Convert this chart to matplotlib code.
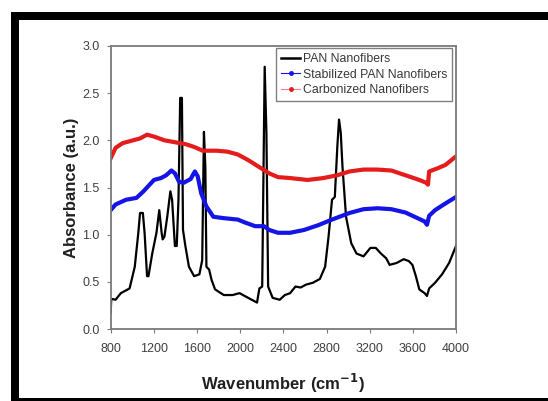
import matplotlib
matplotlib.use('Agg')
import matplotlib.pyplot as plt
from matplotlib.patches import Rectangle
from matplotlib.lines import Line2D

plt.rcParams['font.family'] = ['Liberation Sans', 'DejaVu Sans']

# FTIR spectra, values
pan_x = [800, 805, 845, 894, 975, 1023, 1056, 1072, 1098, 1114, 1137, 1150, 1185, 1224, 1250,
         1272, 1282, 1298, 1324, 1353, 1369, 1386, 1395, 1412, 1428, 1444, 1460, 1470, 1492,
         1525, 1573, 1622, 1648, 1664, 1677, 1687, 1712, 1735, 1767, 1848, 1929, 1994, 2042,
         2107, 2156, 2178, 2204, 2227, 2243, 2259, 2301, 2366, 2414, 2463, 2512, 2560, 2609,
         2673, 2738, 2787, 2819, 2851, 2877, 2900, 2916, 2932, 2948, 2981, 3029, 3078, 3143,
         3207, 3256, 3304, 3353, 3385, 3450, 3515, 3563, 3596, 3628, 3660, 3709, 3731, 3751,
         3806, 3871, 3936, 4000]
pan_y = [0.17, 0.32, 0.31, 0.38, 0.43, 0.66, 1.02, 1.23, 1.23, 1.02, 0.56, 0.56, 0.80, 1.02, 1.26,
         1.02, 0.95, 0.98, 1.19, 1.46, 1.37, 1.05, 0.88, 0.88, 1.37, 2.45, 2.45, 1.05, 0.88,
         0.66, 0.56, 0.58, 0.73, 2.09, 1.72, 0.66, 0.63, 0.52, 0.42, 0.36, 0.36, 0.38, 0.35,
         0.31, 0.28, 0.43, 0.45, 2.78, 2.08, 0.45, 0.33, 0.31, 0.36, 0.38, 0.45, 0.44, 0.47,
         0.49, 0.53, 0.66, 0.98, 1.37, 1.40, 1.93, 2.22, 2.08, 1.72, 1.19, 0.91, 0.80, 0.77,
         0.86, 0.86, 0.80, 0.75, 0.68, 0.70, 0.74, 0.72, 0.68, 0.56, 0.42, 0.38, 0.35, 0.43,
         0.49, 0.58, 0.70, 0.88]

stab_x = [800, 845, 942, 1039, 1104, 1201, 1266, 1314, 1363, 1395, 1434, 1476, 1541, 1580, 1606,
          1638, 1687, 1751, 1848, 1978, 2042, 2139, 2220, 2269, 2350, 2463, 2592, 2722, 2851,
          3013, 3143, 3272, 3401, 3531, 3644, 3709, 3731, 3751, 3806, 3887, 4000]
stab_y = [1.26, 1.32, 1.37, 1.39, 1.46, 1.58, 1.60, 1.63, 1.68, 1.65, 1.56, 1.55, 1.59, 1.67, 1.62,
          1.44, 1.30, 1.19, 1.175, 1.16, 1.13, 1.09, 1.09, 1.05, 1.02, 1.02, 1.05, 1.10, 1.16,
          1.23, 1.27, 1.28, 1.27, 1.235, 1.175, 1.14, 1.105, 1.20, 1.26, 1.32, 1.40]

carb_x = [800, 845, 910, 1007, 1072, 1137, 1201, 1298, 1395, 1492, 1573, 1654, 1784, 1881, 1978,
          2075, 2172, 2269, 2350, 2463, 2625, 2770, 2900, 3013, 3143, 3272, 3401, 3531, 3660,
          3725, 3740, 3751, 3822, 3903, 4000]
carb_y = [1.81, 1.92, 1.97, 2.00, 2.02, 2.06, 2.04, 2.00, 1.98, 1.96, 1.93, 1.89, 1.89, 1.88, 1.85,
          1.79, 1.72, 1.65, 1.61, 1.60, 1.58, 1.60, 1.63, 1.67, 1.69, 1.69, 1.68, 1.63, 1.58,
          1.55, 1.53, 1.67, 1.70, 1.74, 1.83]

labels = ['PAN Nanofibers', 'Stabilized PAN Nanofibers', 'Carbonized Nanofibers']

fig = plt.figure(figsize=(5.48, 4.01), dpi=100)

# black frame around the picture (top, left and a thin bottom strip)
fig.patches.append(Rectangle((11 / 548, 0), 537 / 548, 389 / 401, transform=fig.transFigure,
                             facecolor='black', edgecolor='none', zorder=-2))
fig.patches.append(Rectangle((19 / 548, 3 / 401), 529 / 548, 378 / 401, transform=fig.transFigure,
                             facecolor='white', edgecolor='none', zorder=-1))

ax = fig.add_axes([110.7 / 548, 72 / 401, 345.3 / 548, 283 / 401])
ax.patch.set_alpha(0)

ax.plot(pan_x, pan_y, color='black', lw=1.6)
ax.plot(stab_x, stab_y, color='#1414e6', lw=3.0)
ax.plot(carb_x, carb_y, color='#e41c1c', lw=3.0)

ax.set_xlim(800, 4000)
ax.set_ylim(0, 3.0)
ax.set_xticks(range(800, 4001, 400))
ax.set_yticks([0.0, 0.5, 1.0, 1.5, 2.0, 2.5, 3.0])
ax.set_yticklabels(['0.0', '0.5', '1.0', '1.5', '2.0', '2.5', '3.0'])

for s in ax.spines.values():
    s.set_color('#7a7a7a')
    s.set_linewidth(1.3)
ax.tick_params(direction='out', length=3, width=0.8, color='#7a7a7a',
               labelcolor='#404040', labelsize=9)
ax.tick_params(axis='x', pad=7)
ax.tick_params(axis='y', pad=5)

ax.set_xlabel('Wavenumber (cm$^{\\mathbf{-1}}$)', fontsize=12, fontweight='bold', color='#202020')
ax.set_ylabel('Absorbance (a.u.)', fontsize=12, fontweight='bold', color='#202020')
ax.xaxis.set_label_coords(0.5, -0.15)
ax.yaxis.set_label_coords(-0.092, 0.5)

# legend: thin lines with dot markers for the coloured series
handles = [Line2D([], [], color='black', lw=1.8),
           Line2D([], [], color='#1414e6', lw=0.8, marker='o', markersize=2.5),
           Line2D([], [], color='#f08080', lw=0.8, marker='o', markersize=2.5,
                  markerfacecolor='#e41c1c', markeredgecolor='#e41c1c')]
leg = ax.legend(handles, labels, loc='upper right', bbox_to_anchor=(0.9884, 0.9929),
                fontsize=8.8, frameon=True, fancybox=False, borderaxespad=0,
                handlelength=1.6, handletextpad=0.2, borderpad=0.4, labelspacing=0.3)
leg.get_frame().set_edgecolor('#606060')
leg.get_frame().set_linewidth(1.0)
for t in leg.get_texts():
    t.set_color('#383838')

fig.savefig('out.png', dpi=100)
